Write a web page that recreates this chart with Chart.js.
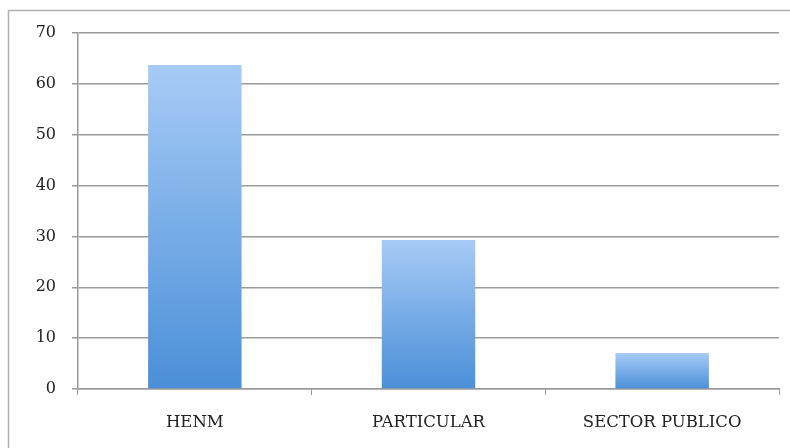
<!DOCTYPE html>
<html>
<head>
<meta charset="utf-8">
<script src="https://cdn.jsdelivr.net/npm/chart.js@4"></script>
<style>
  html, body { margin: 0; padding: 0; background: #fff; }
  #wrap { width: 790px; height: 448px; }
</style>
</head>
<body>
<div id="wrap"><canvas id="chart" width="790" height="448"></canvas></div>
<script>
// Data
const categories = ['HENM', 'PARTICULAR', 'SECTOR PUBLICO'];
const values = [63.7, 29.3, 7.1];
const yTicks = [0, 10, 20, 30, 40, 50, 60, 70];

const fontFamily = "'DejaVu Serif', 'Liberation Serif', serif";
const gridColor = '#9a9a9a';

// Gradient for each bar (light on top, darker at bottom)
function barGradient(context) {
  const chart = context.chart;
  if (!chart.chartArea || context.type !== 'data') return '#7fb0ea';
  const y = chart.scales.y;
  const top = y.getPixelForValue(context.raw);
  const bottom = y.getPixelForValue(0);
  const g = chart.ctx.createLinearGradient(0, top, 0, bottom);
  g.addColorStop(0, '#a7cbf6');
  g.addColorStop(1, '#4a8fd8');
  return g;
}

// Outer frame (only top and left edges fall inside the picture)
const frame = {
  id: 'frame',
  beforeDraw(chart) {
    const c = chart.ctx;
    c.save();
    c.fillStyle = '#fff';
    c.fillRect(0, 0, chart.width, chart.height);
    c.strokeStyle = '#b0b0b0';
    c.lineWidth = 1.5;
    c.strokeRect(8.5, 10.5, 800, 500);
    c.restore();
  }
};

new Chart(document.getElementById('chart'), {
  type: 'bar',
  data: {
    labels: categories,
    datasets: [{
      data: values,
      backgroundColor: barGradient,
      borderWidth: 0,
      categoryPercentage: 0.4,
      barPercentage: 1.0
    }]
  },
  options: {
    responsive: false,
    animation: false,
    layout: { padding: { top: 33, right: 11, bottom: 8, left: 0 } },
    plugins: { legend: { display: false }, tooltip: { enabled: false } },
    scales: {
      x: {
        offset: true,
        grid: { offset: true, drawOnChartArea: false, drawTicks: true, tickLength: 6, color: gridColor },
        border: { color: gridColor, width: 1.5 },
        ticks: { color: '#222', font: { family: fontFamily, size: 16.5 }, padding: 18 },
        afterFit(scale) { scale.height = 51; }
      },
      y: {
        min: 0,
        max: 70,
        afterBuildTicks(scale) { scale.ticks = yTicks.map(v => ({ value: v })); },
        grid: { color: gridColor, lineWidth: 1.5, tickLength: 6 },
        border: { color: gridColor, width: 1.5 },
        ticks: { color: '#222', font: { family: fontFamily, size: 16 }, padding: 16 },
        afterFit(scale) { scale.width = 78; }
      }
    }
  },
  plugins: [frame]
});
</script>
</body>
</html>
